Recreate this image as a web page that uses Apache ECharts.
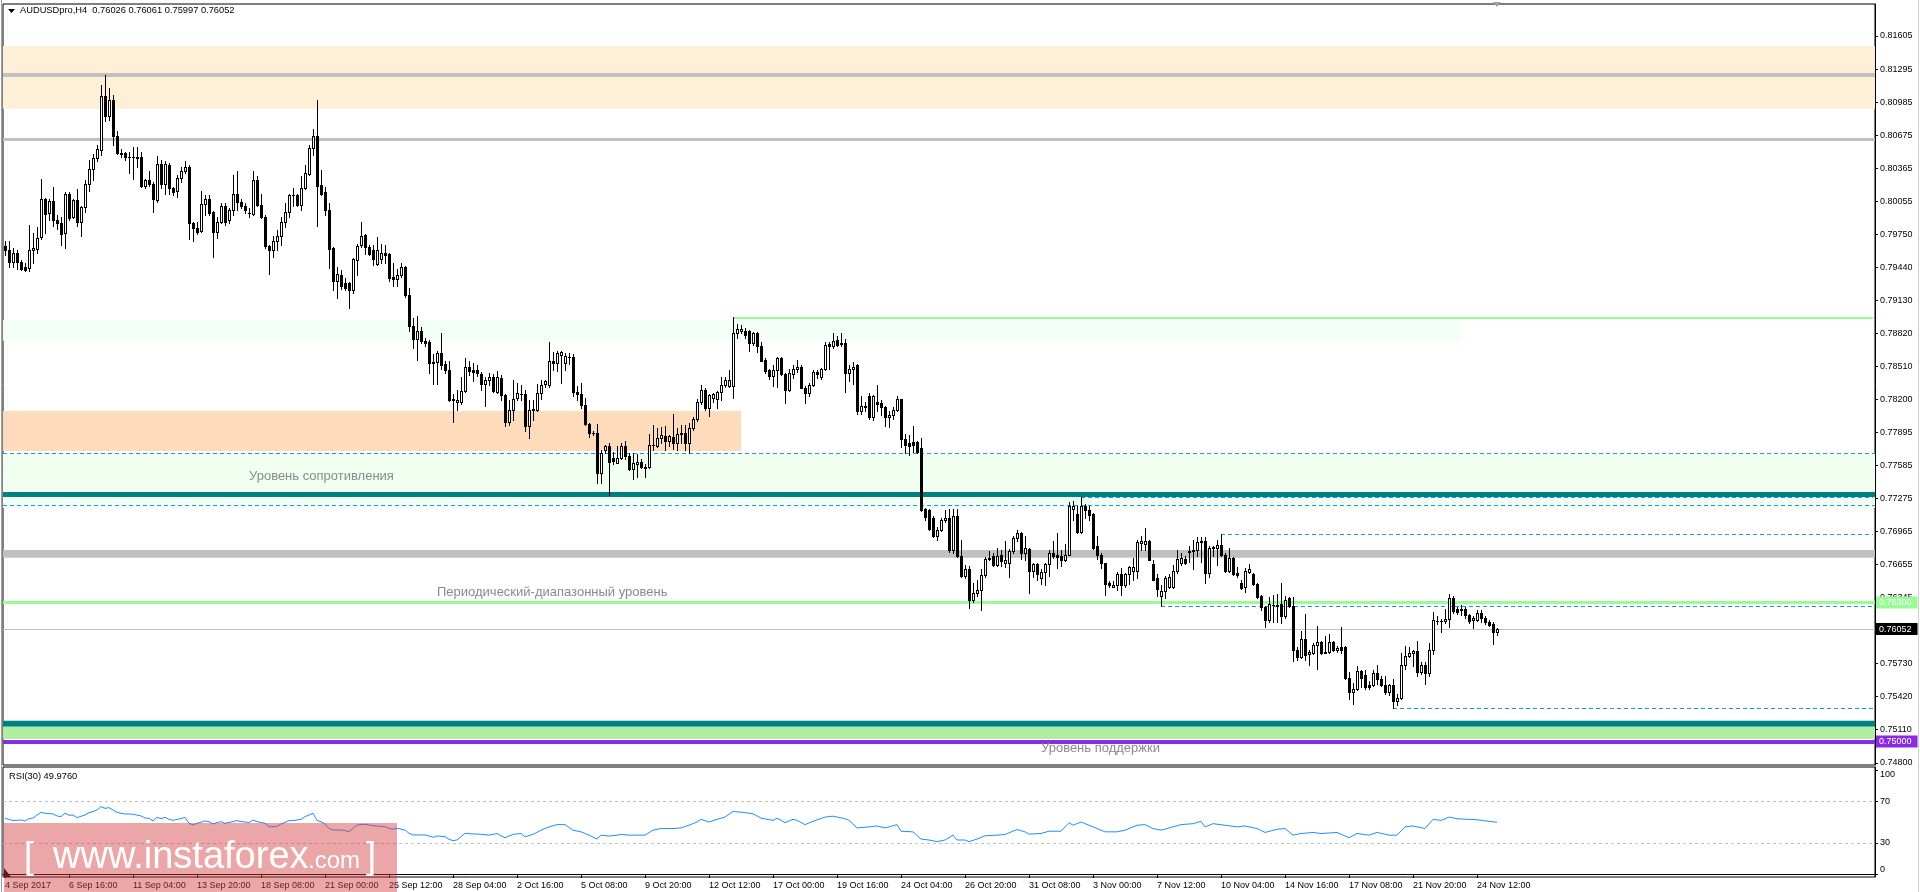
<!DOCTYPE html>
<html><head><meta charset="utf-8">
<script src="https://cdn.jsdelivr.net/npm/echarts@6/dist/echarts.min.js"></script>
<style>html,body{margin:0;padding:0;background:#fff;overflow:hidden}#chart{width:1920px;height:892px}</style>
</head><body><div id="chart"></div>
<script>
// ---------- texts ----------
const symbolTitle = 'AUDUSDpro,H4  0.76026 0.76061 0.75997 0.76052';
const rsiTitle = 'RSI(30) 49.9760';
const watermarkParts = ['[', 'www.instaforex', '.com', ']'];

// ---------- axes ----------
const xTickLabels = ['4 Sep 2017','6 Sep 16:00','11 Sep 04:00','13 Sep 20:00','18 Sep 08:00','21 Sep 00:00','25 Sep 12:00','28 Sep 04:00','2 Oct 16:00','5 Oct 08:00','9 Oct 20:00','12 Oct 12:00','17 Oct 00:00','19 Oct 16:00','24 Oct 04:00','26 Oct 20:00','31 Oct 08:00','3 Nov 00:00','7 Nov 12:00','10 Nov 04:00','14 Nov 16:00','17 Nov 08:00','21 Nov 20:00','24 Nov 12:00'];
const barsPerTick = 16;
const totalSlots = 468;              // bars + right chart shift
const priceTicks = [0.81605,0.81295,0.80985,0.80675,0.80365,0.80055,0.79750,0.79440,0.79130,0.78820,0.78510,0.78200,0.77895,0.77585,0.77275,0.76965,0.76655,0.76345,0.75730,0.75420,0.75110,0.74800];
const priceRange = [0.7477916, 0.8190463];
const rsiTicks = [0, 30, 70, 100];
const rsiRange = [-2.93, 103.6];
const rsiLevels = [70, 30];

// ---------- candles: [open, close, low, high] ----------
const candles = [
[.7964,.7960,.7955,.7969],[.7960,.7949,.7944,.7969],[.7949,.7957,.7944,.7962],[.7957,.7949,.7942,.7960],[.7949,.7942,.7941,.7951],
[.7944,.7941,.7940,.7948],[.7943,.7960,.7940,.7984],[.7960,.7962,.7948,.7976],[.7961,.7971,.7957,.7982],[.7972,.8008,.7970,.8027],
[.8008,.7994,.7976,.8009],[.7995,.8006,.7988,.8008],[.8006,.7988,.7983,.8019],[.7988,.7985,.7980,.7993],[.7985,.7975,.7965,.7991],
[.7976,.8013,.7962,.8014],[.8013,.7990,.7988,.8014],[.7991,.8007,.7990,.8008],[.8007,.7986,.7983,.8017],[.7986,.8000,.7973,.8001],
[.8000,.8022,.7996,.8026],[.8022,.8036,.8015,.8044],[.8036,.8046,.8026,.8050],[.8046,.8055,.8043,.8058],[.8054,.8104,.8049,.8115],
[.8104,.8086,.8081,.8124],[.8086,.8101,.8082,.8112],[.8101,.8067,.8058,.8105],[.8067,.8051,.8050,.8072],[.8051,.8050,.8047,.8055],
[.8051,.8047,.8044,.8052],[.8047,.8047,.8032,.8052],[.8047,.8047,.8027,.8057],[.8046,.8047,.8038,.8057],[.8047,.8020,.8019,.8052],
[.8020,.8026,.8018,.8027],[.8026,.8022,.8020,.8034],[.8022,.8008,.7996,.8024],[.8007,.8041,.8005,.8048],[.8041,.8022,.8018,.8044],
[.8022,.8041,.8013,.8043],[.8040,.8018,.8013,.8042],[.8018,.8014,.8012,.8019],[.8015,.8028,.8010,.8030],[.8028,.8034,.8024,.8038],
[.8034,.8038,.8032,.8043],[.8038,.7985,.7970,.8040],[.7985,.7981,.7969,.7986],[.7981,.7977,.7975,.7986],[.7978,.8003,.7977,.8015],
[.8003,.8008,.7993,.8012],[.8008,.7995,.7993,.8012],[.7996,.7977,.7954,.7997],[.7977,.7986,.7971,.7991],[.7986,.8001,.7985,.8004],
[.8001,.7986,.7984,.8004],[.7988,.7998,.7985,.7999],[.7998,.8013,.7993,.8030],[.8013,.8005,.7998,.8034],[.8005,.8001,.7999,.8008],
[.8001,.7998,.7995,.8004],[.7995,.7995,.7991,.7999],[.7994,.8026,.7993,.8034],[.8026,.8002,.8001,.8029],[.8002,.7991,.7990,.8013],
[.7991,.7964,.7962,.7993],[.7964,.7960,.7938,.7965],[.7960,.7969,.7954,.7973],[.7969,.7973,.7960,.7979],[.7973,.7986,.7965,.7991],
[.7986,.7996,.7982,.8004],[.7996,.8012,.7991,.8013],[.8012,.8012,.8001,.8018],[.8012,.8002,.8001,.8013],[.8002,.8018,.7998,.8029],
[.8018,.8032,.8017,.8040],[.8031,.8056,.8030,.8058],[.8056,.8067,.8049,.8073],[.8067,.8020,.7983,.8101],[.8021,.8013,.8012,.8035],
[.8014,.7998,.7993,.8019],[.7998,.7961,.7943,.8004],[.7962,.7931,.7923,.7963],[.7931,.7938,.7915,.7944],[.7937,.7926,.7924,.7941],
[.7929,.7925,.7923,.7934],[.7929,.7923,.7906,.7930],[.7923,.7952,.7920,.7953],[.7951,.7964,.7937,.7966],[.7965,.7973,.7963,.7986],
[.7974,.7963,.7956,.7975],[.7963,.7956,.7955,.7965],[.7960,.7952,.7946,.7965],[.7947,.7960,.7946,.7972],[.7952,.7957,.7948,.7966],
[.7957,.7955,.7948,.7965],[.7956,.7934,.7931,.7957],[.7935,.7933,.7926,.7948],[.7933,.7937,.7926,.7942],[.7937,.7944,.7935,.7948],
[.7944,.7918,.7916,.7945],[.7918,.7889,.7884,.7925],[.7889,.7877,.7868,.7896],[.7877,.7884,.7857,.7898],[.7884,.7875,.7873,.7888],
[.7875,.7873,.7870,.7878],[.7874,.7854,.7845,.7876],[.7854,.7855,.7835,.7863],[.7855,.7864,.7835,.7866],[.7864,.7852,.7849,.7882],
[.7853,.7848,.7845,.7856],[.7848,.7820,.7819,.7856],[.7821,.7820,.7799,.7825],[.7818,.7820,.7810,.7829],[.7818,.7828,.7816,.7841],
[.7828,.7851,.7827,.7859],[.7851,.7847,.7843,.7856],[.7848,.7846,.7837,.7854],[.7848,.7845,.7842,.7852],[.7844,.7835,.7829,.7846],
[.7835,.7838,.7814,.7841],[.7838,.7841,.7834,.7845],[.7841,.7828,.7827,.7844],[.7827,.7841,.7826,.7847],[.7840,.7824,.7820,.7843],
[.7824,.7799,.7795,.7825],[.7799,.7810,.7796,.7820],[.7810,.7821,.7801,.7838],[.7822,.7826,.7820,.7836],[.7825,.7825,.7820,.7834],
[.7825,.7795,.7791,.7829],[.7795,.7810,.7784,.7820],[.7810,.7811,.7801,.7820],[.7810,.7826,.7809,.7835],[.7826,.7834,.7821,.7838],
[.7835,.7837,.7832,.7838],[.7834,.7856,.7832,.7874],[.7856,.7854,.7848,.7865],[.7854,.7864,.7847,.7866],[.7862,.7865,.7836,.7866],
[.7854,.7861,.7848,.7864],[.7860,.7860,.7853,.7864],[.7860,.7827,.7823,.7863],[.7827,.7825,.7820,.7833],[.7825,.7815,.7812,.7836],
[.7815,.7797,.7796,.7822],[.7797,.7789,.7785,.7798],[.7789,.7789,.7787,.7791],[.7789,.7751,.7742,.7797],[.7751,.7770,.7742,.7773],
[.7773,.7777,.7770,.7778],[.7777,.7762,.7731,.7779],[.7765,.7763,.7760,.7771],[.7761,.7765,.7761,.7777],[.7765,.7777,.7764,.7779],
[.7777,.7767,.7764,.7781],[.7767,.7755,.7754,.7770],[.7755,.7761,.7746,.7770],[.7760,.7762,.7748,.7769],[.7762,.7757,.7756,.7764],
[.7756,.7757,.7748,.7760],[.7757,.7778,.7756,.7788],[.7778,.7778,.7773,.7796],[.7777,.7784,.7776,.7793],[.7784,.7787,.7779,.7794],
[.7786,.7781,.7773,.7795],[.7781,.7786,.7777,.7787],[.7785,.7779,.7774,.7807],[.7779,.7788,.7773,.7793],[.7788,.7789,.7779,.7796],
[.7789,.7779,.7773,.7796],[.7779,.7793,.7770,.7798],[.7793,.7802,.7792,.7804],[.7802,.7818,.7800,.7821],[.7818,.7829,.7816,.7834],
[.7829,.7812,.7810,.7831],[.7812,.7824,.7805,.7825],[.7822,.7825,.7818,.7826],[.7821,.7827,.7812,.7828],[.7827,.7834,.7820,.7841],
[.7834,.7838,.7832,.7841],[.7833,.7838,.7832,.7848],[.7833,.7882,.7822,.7897],[.7882,.7886,.7878,.7891],[.7884,.7886,.7882,.7890],
[.7884,.7881,.7878,.7887],[.7884,.7873,.7866,.7885],[.7873,.7882,.7871,.7883],[.7882,.7870,.7865,.7883],[.7870,.7856,.7856,.7874],
[.7857,.7847,.7845,.7859],[.7848,.7842,.7839,.7849],[.7842,.7848,.7833,.7852],[.7848,.7859,.7832,.7860],[.7859,.7844,.7843,.7860],
[.7844,.7829,.7817,.7845],[.7829,.7845,.7828,.7849],[.7844,.7849,.7840,.7852],[.7849,.7851,.7846,.7857],[.7851,.7831,.7831,.7852],
[.7831,.7826,.7817,.7833],[.7826,.7834,.7823,.7836],[.7834,.7846,.7833,.7848],[.7846,.7844,.7840,.7848],[.7841,.7849,.7839,.7850],
[.7849,.7871,.7848,.7874],[.7872,.7870,.7849,.7874],[.7870,.7875,.7868,.7882],[.7876,.7871,.7870,.7880],[.7873,.7872,.7870,.7882],
[.7873,.7845,.7827,.7877],[.7845,.7849,.7837,.7852],[.7849,.7851,.7835,.7855],[.7852,.7809,.7807,.7853],[.7809,.7814,.7807,.7823],
[.7814,.7813,.7809,.7818],[.7823,.7804,.7802,.7826],[.7804,.7823,.7801,.7824],[.7818,.7816,.7809,.7834],[.7817,.7813,.7806,.7820],
[.7813,.7804,.7795,.7814],[.7804,.7806,.7794,.7809],[.7806,.7810,.7802,.7813],[.7810,.7821,.7809,.7823],[.7821,.7783,.7776,.7821],
[.7783,.7778,.7770,.7788],[.7779,.7777,.7768,.7787],[.7780,.7778,.7771,.7795],[.7780,.7771,.7770,.7781],[.7775,.7717,.7716,.7784],
[.7718,.7710,.7707,.7719],[.7717,.7699,.7698,.7718],[.7709,.7692,.7691,.7711],[.7692,.7698,.7689,.7701],[.7698,.7707,.7697,.7709],
[.7707,.7709,.7705,.7717],[.7709,.7679,.7677,.7718],[.7679,.7711,.7676,.7718],[.7711,.7674,.7673,.7718],[.7674,.7655,.7654,.7689],
[.7655,.7661,.7653,.7665],[.7661,.7632,.7625,.7664],[.7632,.7639,.7631,.7648],[.7639,.7642,.7636,.7651],[.7642,.7656,.7623,.7661],
[.7656,.7671,.7654,.7673],[.7671,.7672,.7670,.7678],[.7674,.7665,.7664,.7676],[.7665,.7674,.7664,.7681],[.7675,.7669,.7664,.7679],
[.7667,.7670,.7663,.7688],[.7667,.7678,.7654,.7680],[.7678,.7690,.7676,.7692],[.7690,.7695,.7688,.7698],[.7695,.7676,.7671,.7696],
[.7676,.7681,.7670,.7692],[.7680,.7660,.7639,.7681],[.7660,.7666,.7654,.7667],[.7666,.7657,.7651,.7667],[.7653,.7659,.7647,.7661],
[.7659,.7666,.7646,.7667],[.7666,.7676,.7655,.7679],[.7676,.7674,.7672,.7688],[.7675,.7673,.7662,.7695],[.7674,.7670,.7664,.7679],
[.7670,.7675,.7669,.7685],[.7675,.7720,.7675,.7724],[.7718,.7720,.7707,.7725],[.7713,.7696,.7695,.7720],[.7696,.7720,.7695,.7729],
[.7720,.7717,.7709,.7722],[.7717,.7712,.7707,.7720],[.7713,.7681,.7680,.7714],[.7683,.7675,.7671,.7692],[.7675,.7667,.7662,.7676],
[.7667,.7647,.7637,.7667],[.7648,.7646,.7645,.7650],[.7645,.7646,.7645,.7650],[.7646,.7657,.7642,.7659],[.7657,.7646,.7637,.7662],
[.7646,.7657,.7645,.7658],[.7657,.7663,.7647,.7664],[.7660,.7663,.7651,.7672],[.7660,.7687,.7653,.7689],[.7686,.7688,.7679,.7692],
[.7685,.7688,.7679,.7700],[.7688,.7670,.7670,.7689],[.7666,.7651,.7651,.7670],[.7653,.7643,.7636,.7657],[.7636,.7641,.7627,.7646],
[.7641,.7653,.7634,.7655],[.7645,.7654,.7644,.7657],[.7645,.7660,.7644,.7665],[.7660,.7671,.7658,.7679],[.7667,.7672,.7665,.7676],
[.7671,.7667,.7666,.7674],[.7677,.7678,.7668,.7683],[.7678,.7679,.7661,.7689],[.7679,.7687,.7674,.7691],[.7687,.7688,.7668,.7691],
[.7688,.7658,.7648,.7691],[.7658,.7681,.7654,.7683],[.7682,.7681,.7674,.7683],[.7681,.7684,.7665,.7689],[.7684,.7675,.7674,.7694],
[.7675,.7660,.7659,.7676],[.7660,.7672,.7659,.7681],[.7672,.7657,.7656,.7673],[.7658,.7656,.7654,.7663],[.7648,.7644,.7643,.7651],
[.7645,.7660,.7640,.7662],[.7659,.7661,.7658,.7666],[.7657,.7647,.7646,.7658],[.7647,.7635,.7634,.7648],[.7636,.7626,.7623,.7637],
[.7626,.7614,.7607,.7627],[.7614,.7629,.7612,.7635],[.7628,.7628,.7612,.7637],[.7627,.7628,.7612,.7638],[.7629,.7617,.7611,.7648],
[.7617,.7632,.7616,.7636],[.7634,.7627,.7626,.7635],[.7627,.7586,.7575,.7635],[.7586,.7579,.7576,.7588],[.7579,.7596,.7578,.7603],
[.7596,.7581,.7576,.7619],[.7582,.7584,.7572,.7586],[.7583,.7590,.7582,.7592],[.7590,.7593,.7568,.7608],[.7593,.7583,.7582,.7594],
[.7583,.7584,.7583,.7599],[.7584,.7593,.7583,.7601],[.7593,.7586,.7585,.7594],[.7586,.7587,.7584,.7589],[.7588,.7586,.7583,.7607],
[.7588,.7559,.7558,.7589],[.7559,.7546,.7540,.7565],[.7546,.7549,.7535,.7555],[.7549,.7566,.7548,.7571],[.7566,.7559,.7551,.7567],
[.7562,.7551,.7549,.7567],[.7553,.7551,.7549,.7557],[.7553,.7564,.7552,.7567],[.7564,.7558,.7554,.7572],[.7558,.7553,.7552,.7561],
[.7553,.7546,.7544,.7561],[.7546,.7553,.7543,.7554],[.7553,.7538,.7531,.7558],[.7538,.7541,.7534,.7544],[.7541,.7572,.7540,.7583],
[.7572,.7580,.7568,.7589],[.7580,.7583,.7579,.7588],[.7583,.7585,.7571,.7586],[.7585,.7565,.7561,.7594],[.7565,.7572,.7563,.7574],
[.7572,.7564,.7554,.7574],[.7564,.7586,.7561,.7592],[.7586,.7614,.7582,.7621],[.7613,.7613,.7610,.7617],[.7613,.7613,.7602,.7615],
[.7613,.7615,.7611,.7624],[.7615,.7634,.7607,.7638],[.7634,.7622,.7620,.7636],[.7624,.7621,.7619,.7626],[.7624,.7623,.7618,.7628],
[.7624,.7618,.7616,.7626],[.7618,.7613,.7611,.7619],[.7614,.7616,.7606,.7617],[.7614,.7620,.7613,.7623],[.7620,.7616,.7612,.7623],
[.7616,.7612,.7610,.7617],[.7612,.7609,.7608,.7614],[.7610,.7602,.7591,.7612],[.76026,.76052,.75997,.76061]
];

// ---------- RSI(30): [bar, value] ----------
const rsi = [[0,53.9],[1,52.9],[2,51.7],[4,52.3],[5,51.3],[6,53.6],[7,54.2],[8,57.1],[9,59.7],[10,58.8],[12,58.1],[13,56.2],[14,55.5],[15,58.8],[16,56.8],[17,57.1],[18,54.6],[20,57.1],[21,59.4],[22,60.4],[23,62.0],[24,65.2],[25,63.6],[26,64.2],[28,59.7],[29,58.8],[30,58.1],[31,58.1],[32,57.8],[34,56.2],[35,54.2],[36,53.9],[37,51.3],[38,54.9],[39,53.6],[40,54.9],[41,52.9],[42,51.9],[43,52.9],[44,53.6],[45,54.9],[46,49.1],[47,47.5],[48,49.1],[50,51.3],[51,50.7],[52,48.4],[53,49.7],[54,50.7],[55,49.1],[57,50.7],[58,51.7],[59,50.7],[60,50.4],[61,49.7],[62,52.3],[63,50.7],[65,49.1],[66,45.8],[67,45.8],[68,46.2],[69,48.4],[70,50.0],[71,51.7],[72,51.7],[74,52.9],[75,55.5],[76,57.1],[77,58.8],[78,51.7],[79,50.7],[80,48.4],[81,44.2],[82,42.6],[84,42.6],[85,42.0],[86,41.0],[87,44.2],[88,47.5],[90,48.1],[91,47.5],[92,46.8],[93,46.5],[95,45.8],[96,44.2],[97,43.3],[98,44.2],[100,42.6],[101,39.4],[102,37.8],[103,37.8],[105,37.8],[106,36.8],[107,35.5],[108,36.8],[110,36.2],[111,33.6],[112,32.3],[113,32.9],[114,36.2],[115,39.4],[117,38.7],[118,38.7],[121,37.6],[123,39.2],[125,35.1],[127,38.3],[129,39.2],[130,36.0],[132,38.3],[134,42.4],[136,45.6],[138,47.8],[140,47.8],[142,42.4],[144,40.8],[146,37.6],[148,33.8],[149,37.6],[151,36.7],[153,37.6],[154,38.3],[156,37.6],[158,37.6],[160,37.6],[162,42.4],[164,44.0],[167,44.0],[169,44.6],[171,47.2],[173,50.3],[174,52.9],[176,50.3],[178,52.9],[180,55.1],[182,60.5],[184,59.9],[187,58.3],[189,54.1],[192,51.9],[193,54.1],[195,49.7],[197,52.9],[198,51.9],[200,47.8],[202,51.0],[205,55.1],[207,56.0],[210,53.5],[211,51.9],[213,44.6],[216,45.6],[218,46.5],[220,44.6],[221,45.6],[223,47.8],[224,41.4],[227,40.8],[229,33.8],[231,32.9],[233,31.3],[235,32.9],[237,37.6],[238,32.9],[240,32.9],[241,31.3],[243,33.8],[245,37.0],[248,37.6],[250,38.3],[253,43.0],[255,40.8],[256,38.6],[259,39.2],[261,41.4],[264,41.4],[266,49.7],[267,47.2],[269,50.3],[271,47.2],[273,44.0],[275,40.8],[278,40.8],[280,42.4],[283,47.2],[285,47.8],[287,44.0],[289,42.4],[292,45.6],[294,47.8],[297,48.7],[299,51.0],[300,45.6],[302,48.7],[305,47.2],[308,45.6],[310,46.5],[313,44.0],[315,40.2],[318,43.3],[320,44.0],[322,37.6],[324,39.2],[327,40.2],[329,39.2],[333,40.2],[336,35.1],[338,39.2],[341,37.6],[343,40.2],[346,37.6],[348,37.6],[350,45.6],[352,46.5],[355,44.0],[357,52.9],[359,51.9],[361,55.1],[363,53.5],[366,52.9],[368,52.5],[371,51.0],[373,49.976]];

// ---------- chart objects (prices, bar indices) ----------
const septemberZone = [0.81511, 0.80924];
const septemberLevels = [0.81243, 0.80641];
const octoberHighZone = [0.78946, 0.78752, 364];     // top, bottom, last bar
const octoberHighLevel = [0.78967, 182];             // price, first bar
const octoberLowZone = [0.78094, 0.77719, 184];
const resistanceZone = [0.77694, 0.77186];
const resistanceLevel = 0.77314;
const resistanceBounds = [0.77694, 0.77207];
const swingLevels = [[0.77286, 269], [0.76939, 304], [0.76265, 289], [0.75310, 347]];
const middleZone = [0.76792, 0.76720];
const rangeLevel = 0.76300;
const lastPrice = 0.76052;
const supportEdgeZone = [0.75194, 0.75138];
const supportZone = [0.75138, 0.75023];
const supportLevel = 0.75000;
const annotations = [['Уровень сопротивления', 61, 0.77479], ['Периодический-диапазонный уровень', 108, 0.76399], ['Уровень поддержки', 259, 0.74930]];

// ---------- styles ----------
const FONT = 'Liberation Sans';
const SILVER = '#C0C0C0', TEAL = '#008080', PALEGREEN = '#98FB98', BLUE = '#1E90FF', PURPLE = '#8A2BE2';
const lastSlot = totalSlots - 1;
const slots = Array.from({length: totalSlots}, (_, i) => String(i));
const showTick = (idx) => idx % barsPerTick === 0 && idx / barsPerTick < xTickLabels.length;

const tag = (text, bg) => ({show: true, position: 'end', distance: 1, formatter: text, color: '#fff',
  backgroundColor: bg, padding: [1, 6, 1, 3], fontSize: 9, fontFamily: FONT, lineHeight: 10});
const solid = (color, width) => ({color, width, type: 'solid', opacity: 1});
const dashed = {color: BLUE, width: 1, type: [4, 3], opacity: 1};

const markAreas = [
  [{yAxis: septemberZone[0], itemStyle: {color: '#FFEFD6'}}, {yAxis: septemberZone[1]}],
  [{yAxis: octoberHighZone[0], itemStyle: {color: '#F4FFF7'}}, {xAxis: octoberHighZone[2], yAxis: octoberHighZone[1]}],
  [{yAxis: octoberLowZone[0], itemStyle: {color: '#FDDBBB'}}, {xAxis: octoberLowZone[2], yAxis: octoberLowZone[1]}],
  [{yAxis: resistanceZone[0], itemStyle: {color: '#F0FFF0'}}, {yAxis: resistanceZone[1]}],
  [{yAxis: middleZone[0], itemStyle: {color: SILVER}}, {yAxis: middleZone[1]}],
  [{yAxis: supportEdgeZone[0], itemStyle: {color: TEAL}}, {yAxis: supportEdgeZone[1]}],
  [{yAxis: supportZone[0], itemStyle: {color: '#B0EEA2'}}, {yAxis: supportZone[1]}]
];
const markLines = [
  {yAxis: septemberLevels[0], lineStyle: solid(SILVER, 4)},
  {yAxis: septemberLevels[1], lineStyle: solid(SILVER, 3)},
  [{xAxis: octoberHighLevel[1], yAxis: octoberHighLevel[0], lineStyle: solid(PALEGREEN, 2)}, {xAxis: lastSlot, yAxis: octoberHighLevel[0]}],
  {yAxis: resistanceBounds[0], lineStyle: dashed},
  {yAxis: resistanceBounds[1], lineStyle: dashed},
  {yAxis: resistanceLevel, lineStyle: solid(TEAL, 5)},
  ...swingLevels.map(([p, b]) => [{xAxis: b, yAxis: p, lineStyle: dashed}, {xAxis: lastSlot, yAxis: p}]),
  {yAxis: lastPrice, lineStyle: solid(SILVER, 1), label: tag(lastPrice.toFixed(5), '#000')},
  {yAxis: rangeLevel, lineStyle: solid(PALEGREEN, 3), label: tag(rangeLevel.toFixed(5), PALEGREEN)},
  {yAxis: supportLevel, lineStyle: solid(PURPLE, 4), label: tag(supportLevel.toFixed(5), PURPLE)}
];

function renderCandle(params, api) {
  const i = api.value(0), o = api.value(1), c = api.value(2), l = api.value(3), h = api.value(4);
  const pO = api.coord([i, o]), pC = api.coord([i, c]), pL = api.coord([i, l]), pH = api.coord([i, h]);
  const x = Math.round(pO[0]);
  const yO = Math.round(pO[1]), yC = Math.round(pC[1]), yL = Math.round(pL[1]), yH = Math.round(pH[1]);
  const top = Math.min(yO, yC), bot = Math.max(yO, yC);
  const children = [
    {type: 'rect', shape: {x: x, y: yH, width: 1, height: Math.max(1, yL - yH + 1)}, style: {fill: '#000'}},
    {type: 'rect', shape: {x: x - 1, y: top, width: 3, height: bot - top + 1}, style: {fill: '#000'}}
  ];
  if (c > o && bot - top >= 2) children.push({type: 'rect', shape: {x: x, y: top + 1, width: 1, height: bot - top - 1}, style: {fill: '#fff'}});
  return {type: 'group', children};
}

const chart = echarts.init(document.getElementById('chart'), null, {renderer: 'canvas'});
chart.setOption({
  animation: false,
  backgroundColor: '#fff',
  grid: [
    {left: 3, top: 4, width: 1872, height: 761, show: true, borderColor: '#000', borderWidth: 1, backgroundColor: '#fff'},
    {left: 3, top: 767, width: 1872, height: 110, show: true, borderColor: '#000', borderWidth: 1, backgroundColor: '#fff'}
  ],
  xAxis: [
    {type: 'category', gridIndex: 0, data: slots, boundaryGap: true, axisLine: {show: false}, axisTick: {show: false}, axisLabel: {show: false}, splitLine: {show: false}},
    {type: 'category', gridIndex: 1, data: slots, boundaryGap: true,
      axisLine: {show: true, lineStyle: {color: '#000'}},
      axisTick: {show: true, alignWithLabel: true, interval: showTick, length: 4, lineStyle: {color: '#000'}},
      axisLabel: {interval: showTick, formatter: (v) => xTickLabels[Number(v) / barsPerTick] || '', align: 'left', margin: 4,
        color: '#000', fontSize: 9, fontFamily: FONT},
      splitLine: {show: false}}
  ],
  yAxis: [
    {type: 'value', gridIndex: 0, position: 'right', min: priceRange[0], max: priceRange[1],
      axisLine: {show: true, lineStyle: {color: '#000'}},
      axisTick: {show: true, length: 3, customValues: priceTicks, lineStyle: {color: '#000'}},
      axisLabel: {customValues: priceTicks, formatter: (v) => v.toFixed(5), color: '#000', fontSize: 9, fontFamily: FONT, margin: 5},
      splitLine: {show: false}},
    {type: 'value', gridIndex: 1, position: 'right', min: rsiRange[0], max: rsiRange[1],
      axisLine: {show: true, lineStyle: {color: '#000'}},
      axisTick: {show: true, length: 3, customValues: rsiTicks, lineStyle: {color: '#000'}},
      axisLabel: {customValues: rsiTicks, color: '#000', fontSize: 9, fontFamily: FONT, margin: 5,
        formatter: (v) => v === 100 ? '{t|100}' : (v === 0 ? '{b|0}' : String(v)),
        rich: {t: {padding: [7, 0, 0, 0], fontSize: 9, fontFamily: FONT}, b: {padding: [0, 0, 8, 0], fontSize: 9, fontFamily: FONT}}},
      splitLine: {show: false}}
  ],
  series: [
    {type: 'line', name: 'objects', xAxisIndex: 0, yAxisIndex: 0, z: 1, silent: true, symbol: 'none',
      data: candles.map((c, i) => [i, c[1]]), lineStyle: {opacity: 0},
      markArea: {silent: true, z: 1, data: markAreas, label: {show: false}},
      markLine: {silent: true, z: 2, precision: 5, symbol: ['none', 'none'], label: {show: false}, emphasis: {disabled: true}, data: markLines},
      markPoint: {silent: true, z: 2, symbolSize: 0,
        data: annotations.map(([t, b, p]) => ({name: t, coord: [b, p]})),
        label: {show: true, position: 'right', distance: 0, formatter: '{b}', color: '#8A8A8A', fontSize: 13, fontFamily: FONT}}
    },
    {type: 'custom', name: 'AUDUSDpro,H4', xAxisIndex: 0, yAxisIndex: 0, z: 3, silent: true, clip: true,
      data: candles.map((c, i) => [i, c[0], c[1], c[2], c[3]]), encode: {x: 0, y: [1, 2, 3, 4]}, renderItem: renderCandle},
    {type: 'line', name: 'RSI(30)', xAxisIndex: 1, yAxisIndex: 1, z: 3, silent: true, symbol: 'none', showSymbol: false,
      data: rsi, lineStyle: {color: BLUE, width: 1}, connectNulls: true,
      markLine: {silent: true, z: 2, precision: 2, symbol: ['none', 'none'], label: {show: false},
        lineStyle: {color: SILVER, width: 1, type: [3, 3]}, data: rsiLevels.map(v => ({yAxis: v}))}}
  ],
  graphic: [
    {type: 'polygon', shape: {points: [[8, 9], [15, 9], [11.5, 13]]}, style: {fill: '#000'}, z: 50},
    {type: 'text', left: 20, top: 6, style: {text: symbolTitle, fill: '#000', font: '9.3px ' + FONT}, z: 50},
    {type: 'text', left: 9, top: 772, style: {text: rsiTitle, fill: '#000', font: '9.3px ' + FONT}, z: 50},
    {type: 'polygon', shape: {points: [[1493, 2], [1501, 2], [1497, 7]]}, style: {fill: '#A0A0A0'}, z: 50},
    {type: 'rect', shape: {x: 1, y: 0, width: 1, height: 892}, style: {fill: '#A0A0A0'}, z: 50},
    {type: 'rect', shape: {x: 1918, y: 0, width: 1, height: 892}, style: {fill: '#D0D0D0'}, z: 50},
    {type: 'polygon', shape: {points: [[4, 868], [4, 877], [11, 877]]}, style: {fill: '#000'}, z: 90},
    {type: 'rect', shape: {x: 4, y: 823, width: 393, height: 69}, style: {fill: 'rgba(210,60,60,0.45)'}, z: 100},
    {type: 'text', x: 24, y: 858, style: {text: watermarkParts[0], fill: '#fff', font: '36px ' + FONT, verticalAlign: 'middle'}, z: 101},
    {type: 'text', x: 53, y: 858, style: {text: watermarkParts[1], fill: '#fff', font: '38px ' + FONT, verticalAlign: 'middle'}, z: 101},
    {type: 'text', x: 308, y: 861, style: {text: watermarkParts[2], fill: '#fff', font: '24px ' + FONT, verticalAlign: 'middle'}, z: 101},
    {type: 'text', x: 366, y: 858, style: {text: watermarkParts[3], fill: '#fff', font: '36px ' + FONT, verticalAlign: 'middle'}, z: 101}
  ]
});
</script></body></html>
